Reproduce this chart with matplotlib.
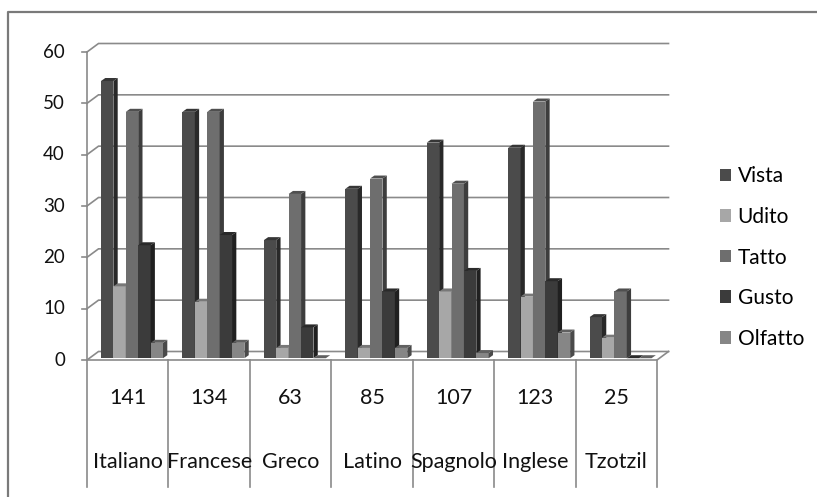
import matplotlib
matplotlib.use('Agg')
import matplotlib.pyplot as plt
import numpy as np
from matplotlib.patches import Polygon, Patch
from matplotlib.lines import Line2D

plt.rcParams['font.family'] = ['Lato', 'DejaVu Sans']

languages = ['Italiano', 'Francese', 'Greco', 'Latino', 'Spagnolo', 'Inglese', 'Tzotzil']
totals = [141, 134, 63, 85, 107, 123, 25]
series = ['Vista', 'Udito', 'Tatto', 'Gusto', 'Olfatto']
vista = [54, 48, 23, 33, 42, 41, 8]
udito = [14, 11, 2, 2, 13, 12, 4]
tatto = [48, 48, 32, 35, 34, 50, 13]
gusto = [22, 24, 6, 13, 17, 15, 0]
olfatto = [3, 3, 0, 2, 1, 5, 0]
colors = ['#4b4b4b', '#a7a7a7', '#6e6e6e', '#3b3b3b', '#868686']

W, H = 817, 497
fig = plt.figure(figsize=(W / 100, H / 100), dpi=100)
# front plane of the plot: x 87..657 px, y 360..52 px
ax = fig.add_axes([87 / W, (H - 360) / H, 570 / W, 308 / H])
ax.set_xlim(0, 7)
ax.set_ylim(0, 60)
ax.axis('off')

cpx = 570 / 7      # px per category
vpx = 308 / 60     # px per unit
ddx, ddy = 11.5 / cpx, 8.5 / vpx   # depth of floor / walls
grid_c = '#8a8a8a'

# back wall gridlines + side wall diagonals + front axis ticks
for v in range(0, 61, 10):
    ax.plot([0, ddx, 7 + ddx], [v, v + ddy, v + ddy], color=grid_c, lw=1.2,
            clip_on=False, zorder=1, solid_joinstyle='miter')
    ax.plot([-5.5 / cpx, 0], [v, v], color=grid_c, lw=1.2, clip_on=False, zorder=1)
    ax.text(-22 / cpx, v, str(v), ha='right', va='center', fontsize=13.5,
            color='#111111')
ax.plot([0, 0], [0, 60], color=grid_c, lw=1.2, clip_on=False, zorder=1)
# floor front and right edges
ax.plot([0, 7, 7 + ddx], [0, 0, ddy], color=grid_c, lw=1.2, clip_on=False, zorder=2)

# 3D-looking clustered bars
w = 12.4 / cpx
x0 = 14 / cpx
b0 = 0.35
bdx, bdy = 4.3 / cpx, 3 / vpx
data = [vista, udito, tatto, gusto, olfatto]
x = np.arange(len(languages))
for k, (vals, col) in enumerate(zip(data, colors)):
    rgb = np.array(matplotlib.colors.to_rgb(col))
    left = x + x0 + k * w
    ax.bar(left, vals, width=w, bottom=b0, align='edge', color=col,
           linewidth=0, zorder=3 + k, clip_on=False)
    for xl, v in zip(left, vals):
        top = b0 + v
        side = [(xl + w, b0), (xl + w + bdx, b0 + bdy),
                (xl + w + bdx, top + bdy), (xl + w, top)]
        cap = [(xl, top), (xl + w, top), (xl + w + bdx, top + bdy), (xl + bdx, top + bdy)]
        ax.add_patch(Polygon(side, closed=True, color=rgb * 0.55, lw=0,
                             zorder=3 + k, clip_on=False))
        ax.add_patch(Polygon(cap, closed=True, color=rgb * 0.72, lw=0,
                             zorder=3 + k, clip_on=False))

# data table under the axis
t_bottom = -(487 - 360) / vpx
for i in range(len(languages) + 1):
    ax.plot([i, i], [0, t_bottom], color=grid_c, lw=1.2, clip_on=False, zorder=2)
for i, (lang, tot) in enumerate(zip(languages, totals)):
    ax.text(i + 0.5, -(398 - 360) / vpx, str(tot), ha='center', va='center',
            fontsize=15.5, color='#111111')
    ax.text(i + 0.5, -(462 - 360) / vpx, lang, ha='center', va='center',
            fontsize=15.5, color='#111111')

# legend
handles = [Patch(facecolor=c, edgecolor='none') for c in colors]
fig.legend(handles, series, loc='center left', bbox_to_anchor=(720 / W, 1 - 257.5 / H),
           bbox_transform=fig.transFigure, frameon=False, fontsize=15,
           handlelength=0.55, handleheight=0.55, handletextpad=0.3,
           labelspacing=0.99, borderpad=0, borderaxespad=0)

# outer chart frame (top and left edges)
fig.add_artist(Line2D([8 / W, 8 / W, 1], [0, 1 - 12 / H, 1 - 12 / H],
                      transform=fig.transFigure, color='#7a7a7a', lw=1.6))

fig.savefig('out.png', dpi=100)
